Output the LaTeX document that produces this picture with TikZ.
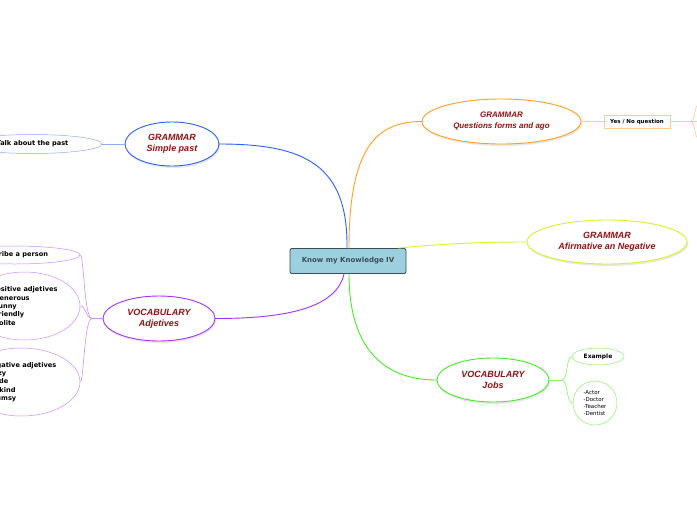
\documentclass[tikz,border=0pt]{standalone}
\usepackage{fontspec}
\setmainfont{Liberation Sans}
\newfontfamily\labelfont{DejaVu Sans}
\usetikzlibrary{shapes.geometric,shadows}
\definecolor{titlered}{RGB}{145,18,18}
\definecolor{knowfill}{RGB}{156,208,222}
\definecolor{knowdraw}{RGB}{58,78,88}
\definecolor{pastblue}{RGB}{45,95,255}
\definecolor{pastlight}{RGB}{140,170,255}
\definecolor{adjpurple}{RGB}{165,50,255}
\definecolor{adjlight}{RGB}{205,140,255}
\definecolor{qorange}{RGB}{255,160,30}
\definecolor{qlight}{RGB}{255,205,140}
\definecolor{affyellow}{RGB}{210,245,40}
\definecolor{jobgreen}{RGB}{70,235,40}
\definecolor{joblight}{RGB}{140,240,110}
\begin{document}
\begin{tikzpicture}[x=1pt,y=-1pt,line cap=round,line join=round,
  topic/.style={ellipse,draw,line width=0.9pt,fill=white,inner sep=0pt,align=center,
    text=titlered,font=\bfseries\itshape\fontsize{9}{11}\selectfont,
    drop shadow={opacity=0.18,shadow xshift=1pt,shadow yshift=-2pt}},
  leaf/.style={ellipse,draw,line width=0.5pt,fill=white,inner sep=0pt,align=left,
    font=\labelfont\bfseries\fontsize{6.6}{8.4}\selectfont},
  trunk/.style={line width=0.9pt},
  twig/.style={line width=0.6pt}]
  \useasboundingbox (0,0) rectangle (697,520);
  \clip (0,0) rectangle (697,520);
  \fill[white] (0,0) rectangle (697,520);

  \node[rectangle,rounded corners=2pt,draw=knowdraw,fill=knowfill,line width=0.9pt,
    minimum width=116,minimum height=25,text=knowdraw,
    font=\labelfont\bfseries\fontsize{7}{8}\selectfont] (know) at (348,261) {Know my Knowledge IV};

  \node[topic,draw=pastblue,minimum width=94,minimum height=44] (past) at (172,144) {GRAMMAR\\Simple past};
  \node[leaf,draw=pastlight,minimum width=139,minimum height=19] (talk) at (32.5,144) {Talk about the past};

  \node[topic,draw=adjpurple,minimum width=112,minimum height=45] (adj) at (159,318.5) {VOCABULARY\\Adjetives};
  \node[leaf,draw=adjlight,minimum width=131,minimum height=18] (desc) at (14.5,255) {Describe a person};
  \node[leaf,draw=adjlight,minimum width=111,minimum height=68] (pos) at (24.5,306) {Positive adjetives\\-Generous\\-Funny\\-Friendly\\-Polite};
  \node[leaf,draw=adjlight,minimum width=117,minimum height=68] (neg) at (21.5,382) {Negative adjetives\\-Lazy\\-Rude\\-Unkind\\-Clumsy};
  \coordinate (adjfork) at (92,318.5);

  \node[topic,draw=qorange,minimum width=159,minimum height=45,
    font=\bfseries\itshape\fontsize{8}{11}\selectfont] (quest) at (501.5,121.5) {GRAMMAR\\Questions forms and ago};
  \node[rectangle,draw=qlight,line width=0.6pt,fill=white,minimum width=66,minimum height=13,inner sep=0pt,
    font=\labelfont\bfseries\fontsize{5.5}{6}\selectfont] (yesno) at (637,121.5) {Yes / No question};
  \coordinate (ynfork) at (690,121.5);
  \coordinate (yn1) at (704,101);
  \coordinate (yn2) at (704,121.5);
  \coordinate (yn3) at (704,142);

  \node[topic,draw=affyellow,minimum width=160,minimum height=44] (aff) at (607,242) {GRAMMAR\\Afirmative an Negative};

  \node[topic,draw=jobgreen,minimum width=112,minimum height=44] (jobs) at (493,380) {VOCABULARY\\Jobs};
  \node[leaf,draw=joblight,minimum width=52,minimum height=17,
    font=\labelfont\bfseries\fontsize{6}{7}\selectfont] (example) at (598,356.5) {Example};
  \node[circle,draw=joblight,line width=0.5pt,fill=white,minimum size=44,inner sep=0pt,align=left,
    font=\labelfont\fontsize{5.5}{6.7}\selectfont] (list) at (595,403) {-Actor\\-Doctor\\-Teacher\\-Dentist};
  \coordinate (jobfork) at (562,380);

  \draw[trunk,pastblue] ([xshift=-1pt]know.north) .. controls (348,165) and (305,144) .. (past.east);
  \draw[trunk,qorange] ([xshift=1pt]know.north) .. controls (349,150) and (375,121.5) .. (quest.west);
  \draw[trunk,affyellow] ([xshift=-8pt]know.north east) .. controls (450,243) and (490,242) .. (aff.west);
  \draw[trunk,adjpurple] ([xshift=-4pt]know.south) .. controls (336,310) and (280,318.5) .. (adj.east);
  \draw[trunk,jobgreen] ([xshift=1pt]know.south) .. controls (349,360) and (395,380) .. (jobs.west);

  \draw[twig,pastlight] (talk.east) -- (past.west);
  \draw[twig,adjlight] (adj.west) -- (adjfork);
  \draw[twig,adjlight] (adjfork) .. controls (84,318.5) and (84,255) .. (desc.east);
  \draw[twig,adjlight] (adjfork) .. controls (86,318.5) and (86,306) .. (pos.east);
  \draw[twig,adjlight] (adjfork) .. controls (84,318.5) and (84,382) .. (neg.east);
  \draw[twig,qlight] (quest.east) -- (yesno.west);
  \draw[twig,qlight] (yesno.east) -- (ynfork);
  \draw[twig,qlight] (ynfork) .. controls (697,121.5) and (692,101) .. (yn1);
  \draw[twig,qlight] (ynfork) -- (yn2);
  \draw[twig,qlight] (ynfork) .. controls (697,121.5) and (692,142) .. (yn3);
  \draw[twig,joblight] (jobs.east) -- (jobfork);
  \draw[twig,joblight] (jobfork) .. controls (568,380) and (566,356.5) .. (example.west);
  \draw[twig,joblight] (jobfork) .. controls (568,380) and (566,403) .. (list.west);
\end{tikzpicture}
\end{document}
